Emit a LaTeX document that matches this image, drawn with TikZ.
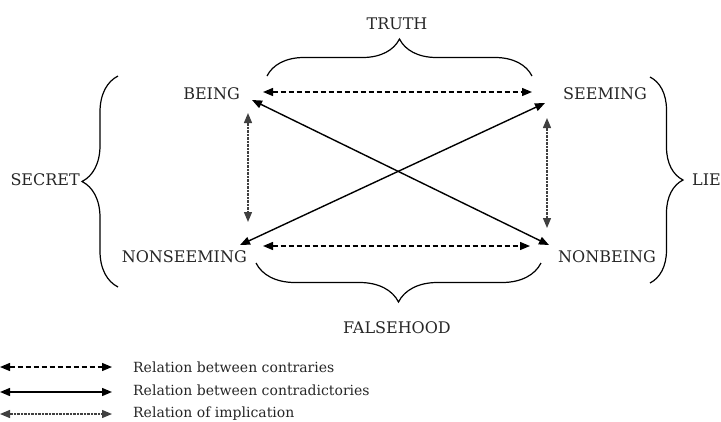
\documentclass[tikz,border=0pt]{standalone}
\usepackage{fontspec}
\setmainfont{DejaVu Serif}
\usetikzlibrary{arrows.meta,decorations.pathreplacing}
\begin{document}
\begin{tikzpicture}[x=1pt,y=-1pt,
  >={Triangle[length=10pt,width=8pt]},
  lbl/.style={inner sep=0pt,font=\fontsize{16}{19}\selectfont,text=black!85},
  lgd/.style={inner sep=0pt,anchor=base west,font=\fontsize{14}{17}\selectfont,text=black!85},
  contrary/.style={<->,line width=1.3pt,dash pattern=on 5pt off 3pt},
  contradict/.style={<->,line width=1.4pt},
  implic/.style={<->,line width=1.3pt,dash pattern=on 0.8pt off 0.6pt,draw=black!75},
  bracepath/.style={decorate,line width=1.2pt,decoration={brace,amplitude=#1}}
]
\useasboundingbox (0,0) rectangle (721,421);
% labels
\node[lbl] (truth) at (397,24) {TRUTH};
\node[lbl,anchor=east] (being) at (240,94) {BEING};
\node[lbl,anchor=west] (seeming) at (563,94) {SEEMING};
\node[lbl,anchor=east] (nonseeming) at (247,257) {NONSEEMING};
\node[lbl,anchor=west] (nonbeing) at (558,257) {NONBEING};
\node[lbl,anchor=east] (secret) at (80,180) {SECRET};
\node[lbl,anchor=west] (lie) at (692,180) {LIE};
\node[lbl] (falsehood) at (397,328) {FALSEHOOD};
% arrow end points
\coordinate (bR) at (263,92);
\coordinate (sL) at (532,92);
\coordinate (nsR) at (263,246);
\coordinate (nbL) at (530,246);
\coordinate (bD) at (248,113);
\coordinate (nsU) at (248,222);
\coordinate (sD) at (547,118);
\coordinate (nbU) at (547,228);
\coordinate (bX) at (252,100);
\coordinate (nbX) at (549,245);
\coordinate (nsX) at (240,245);
\coordinate (sX) at (545,103);
% relations
\draw[contrary] (bR) -- (sL);
\draw[contrary] (nsR) -- (nbL);
\draw[implic] (bD) -- (nsU);
\draw[implic] (sD) -- (nbU);
\draw[contradict] (bX) -- (nbX);
\draw[contradict] (nsX) -- (sX);
% braces
\coordinate (tb1) at (267,76); \coordinate (tb2) at (532,76);
\coordinate (bb1) at (541,263); \coordinate (bb2) at (256,263);
\coordinate (lb1) at (118,287); \coordinate (lb2) at (118,76);
\coordinate (rb1) at (650,77); \coordinate (rb2) at (650,283);
\draw[bracepath=37pt] (tb1) -- (tb2);
\draw[bracepath=39pt] (bb1) -- (bb2);
\draw[bracepath=36pt] (lb1) -- (lb2);
\draw[bracepath=33pt] (rb1) -- (rb2);
% legend
\coordinate (l1a) at (0,367); \coordinate (l1b) at (112,367);
\coordinate (l2a) at (0,392); \coordinate (l2b) at (112,392);
\coordinate (l3a) at (0,414); \coordinate (l3b) at (112,414);
\draw[contrary] (l1a) -- (l1b);
\draw[contradict] (l2a) -- (l2b);
\draw[implic] (l3a) -- (l3b);
\node[lgd] (t1) at (133,372) {Relation between contraries};
\node[lgd] (t2) at (133,395) {Relation between contradictories};
\node[lgd] (t3) at (133,417) {Relation of implication};
\end{tikzpicture}
\end{document}
